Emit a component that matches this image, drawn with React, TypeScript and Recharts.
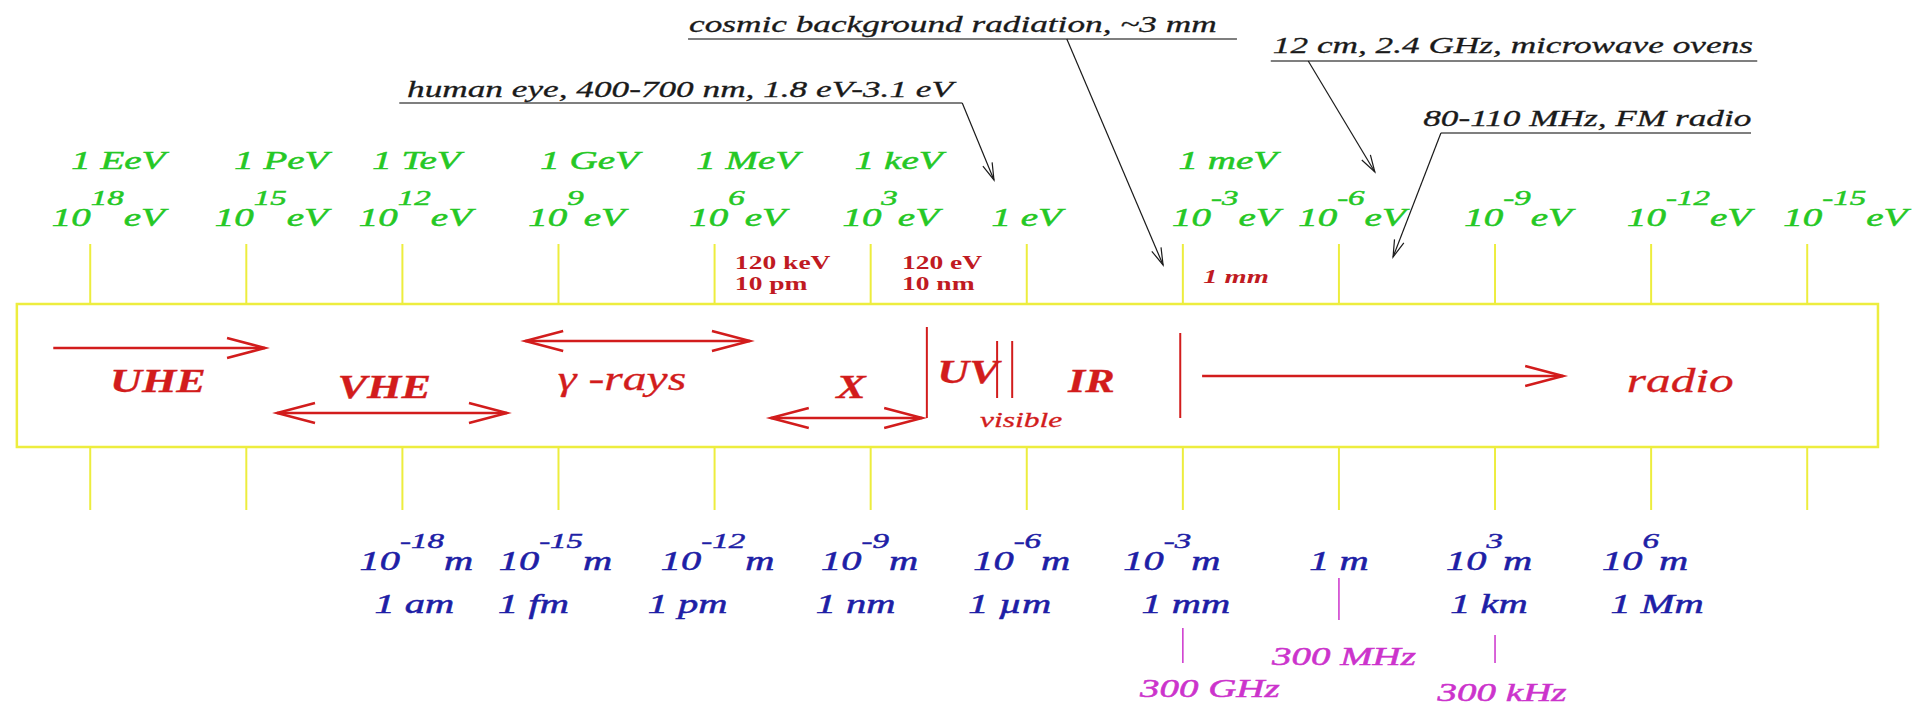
import React from "react";
import {
  ComposedChart,
  ReferenceArea,
  ReferenceLine,
  Scatter,
  XAxis,
  YAxis,
} from "recharts";

const W = 1921;
const H = 708;
// x axis = log10(E / eV), reversed: high energies on the left
const X_MIN = -17.187;
const X_MAX = 19.734;
const PX_PER_DECADE = W / (X_MAX - X_MIN);

// energy scale
const ENERGY_EXP = [18, 15, 12, 9, 6, 3, 0, -3, -6, -9, -12, -15];
const ENERGY_NAME = ["1 EeV", "1 PeV", "1 TeV", "1 GeV", "1 MeV", "1 keV", "", "1 meV", "", "", "", ""];

// wavelength scale, hung on the energy ticks 10^12 eV ... 10^-12 eV
const WAVE_AT = [12, 9, 6, 3, 0, -3, -6, -9, -12];
const WAVE_EXP = [-18, -15, -12, -9, -6, -3, 0, 3, 6];
const WAVE_NAME = ["1 am", "1 fm", "1 pm", "1 nm", "1 µm", "1 mm", "", "1 km", "1 Mm"];

// frequencies, hung on the wavelength ticks 1 mm, 1 m, 1 km
const FREQ_AT = [-3, -6, -9];
const FREQ_NAME = ["300 GHz", "300 MHz", "300 kHz"];

// bands inside the box
const BAND_NAME = ["UHE", "VHE", "γ -rays", "X", "UV", "visible", "IR", "radio"];
const BAND_LABEL_AT = [16.7, 12.35, 7.78, 3.38, 1.13, 0.11, -1.24, -12.56];
const BAND_ARROW_FROM = [18.71, 14.41, 9.64, 4.92, -3.37];
const BAND_ARROW_TO = [14.64, 9.99, 5.32, 2.01, -10.31];
const BAND_ARROW_BOTH = [false, true, true, true, false];
// UV edge, visible edges, IR / radio edge
const BAND_EDGE_AT = [1.92, 0.57, 0.28, -2.95];

// small markers above the box
const MARK_AT = [5.61, 2.4, -3.39];
const MARK_TOP = ["120 keV", "120 eV", "1 mm"];
const MARK_BOTTOM = ["10 pm", "10 nm", ""];

// callouts
const NOTE_TEXT = [
  "cosmic background radiation, ~3 mm",
  "12 cm, 2.4 GHz, microwave ovens",
  "human eye, 400-700 nm, 1.8 eV-3.1 eV",
  "80-110 MHz, FM radio",
];
const NOTE_TEXT_AT = [6.49, -4.73, 11.91, -7.62];
const NOTE_LINE_FROM = [6.51, -4.69, 12.06, -7.96];
const NOTE_LINE_TO = [-4.04, -14.04, 1.24, -13.92];
const NOTE_ARROW_FROM = [-0.77, -5.41, 1.24, -7.96];
const NOTE_ARROW_TO = [-2.62, -6.69, 0.63, -7.04];

// ---- layout (pixels from the top, pixel nudges) ----
const Y = {
  eName: 169,
  ePow: 226,
  tickTop: [244, 304],
  tickBottom: [447, 510],
  boxTop: 304,
  boxBottom: 447,
  markTop: 269,
  markBottom: 290,
  wPow: 570,
  wName: 613,
};
const BOX_LEFT = 19.41;
const BOX_RIGHT = -16.36;
const ENERGY_NAME_DX = [28, 35, 14, 31, 33, 28, 0, 45, 0, 0, 0, 0];
const ENERGY_POW_DX = [18, 25, 13, 18, 23, 20, 0, 43, 13, 23, 38, 38];
const WAVE_POW_DX = [14, -3, 3, -1, -5, -11, 0, -6, -6];
const WAVE_NAME_DX = [12, -25, -27, -15, -17, 3, 0, -6, 6];
const FREQ_LINE = [[628, 663], [578, 620], [635, 663]];
const FREQ_LABEL_Y = [697, 665, 701];
const FREQ_DX = [27, 5, 7];
const BAND_LABEL_Y = [392, 398, 390, 398, 383, 427, 392, 392];
const BAND_LABEL_SIZE = [34, 34, 34, 34, 34, 21, 34, 34];
const BAND_LABEL_BOLD = [true, true, false, true, true, false, true, false];
const BAND_LABEL_SX = [1.3, 1.3, 1.4, 1.3, 1.3, 1.5, 1.3, 1.45];
const BAND_ARROW_Y = [348, 413, 341, 418, 376];
const BAND_EDGE_Y = [[327, 418], [341, 398], [341, 398], [333, 418]];
const NOTE_TEXT_Y = [32, 53, 97, 126];
const NOTE_LINE_Y = [39, 61, 103, 133];
const NOTE_TIP_Y = [265, 172, 180, 257];

const FONT = "'Liberation Serif', 'Times New Roman', serif";
const C = {
  green: "#25c825",
  blue: "#1e1ea6",
  red: "#d21c1c",
  darkRed: "#c01a22",
  magenta: "#cc33cc",
  yellow: "#eded3e",
  ink: "#1a1a1a",
  rule: "#555555",
};

type TextProps = {
  x: number;
  y: number;
  sx?: number;
  size: number;
  fill: string;
  anchor?: "start" | "middle" | "end";
  bold?: boolean;
  italic?: boolean;
  heavy?: number;
  children: React.ReactNode;
};

// the original drawing is stretched about 1.5x horizontally
function StretchText({ x, y, sx = 1.5, size, fill, anchor = "middle", bold, italic = true, heavy = 0.5, children }: TextProps) {
  return (
    <text
      transform={`translate(${x} ${y}) scale(${sx} 1)`}
      textAnchor={anchor}
      fontFamily={FONT}
      fontSize={size}
      fontStyle={italic ? "italic" : "normal"}
      fontWeight={bold ? 700 : 400}
      fill={fill}
      stroke={fill}
      strokeWidth={heavy}
    >
      {children}
    </text>
  );
}

const arrowAngle = (fromE: number, fromY: number, toE: number, toY: number) =>
  Math.atan2(toY - fromY, (fromE - toE) * PX_PER_DECADE);

function ArrowHead(p: any) {
  const { cx, cy, payload } = p;
  const { angle, len, half, color, width } = payload;
  const bx = cx - len * Math.cos(angle);
  const by = cy - len * Math.sin(angle);
  const nx = -Math.sin(angle) * half;
  const ny = Math.cos(angle) * half;
  return (
    <path
      d={`M${bx + nx},${by + ny} L${cx},${cy} L${bx - nx},${by - ny}`}
      fill="none"
      stroke={color}
      strokeWidth={width}
    />
  );
}

const energyNames = ENERGY_EXP.map((e, i) => ({ x: e, y: Y.eName, text: ENERGY_NAME[i], dx: ENERGY_NAME_DX[i] })).filter(
  (d) => d.text
);
const energyPows = ENERGY_EXP.map((e, i) => ({ x: e, y: Y.ePow, exp: e, dx: ENERGY_POW_DX[i] }));
const wavePows = WAVE_AT.map((e, i) => ({ x: e, y: Y.wPow, exp: WAVE_EXP[i], dx: WAVE_POW_DX[i] }));
const waveNames = WAVE_AT.map((e, i) => ({ x: e, y: Y.wName, text: WAVE_NAME[i], dx: WAVE_NAME_DX[i] })).filter(
  (d) => d.text
);
const freqLabels = FREQ_AT.map((e, i) => ({ x: e, y: FREQ_LABEL_Y[i], text: FREQ_NAME[i], dx: FREQ_DX[i] }));
const bandLabels = BAND_NAME.map((name, i) => ({
  x: BAND_LABEL_AT[i],
  y: BAND_LABEL_Y[i],
  text: name,
  size: BAND_LABEL_SIZE[i],
  bold: BAND_LABEL_BOLD[i],
  sx: BAND_LABEL_SX[i],
}));
const markTop = MARK_AT.map((e, i) => ({
  x: e,
  y: MARK_BOTTOM[i] ? Y.markTop : 283,
  text: MARK_TOP[i],
  italic: !MARK_BOTTOM[i],
}));
const markBottom = MARK_AT.map((e, i) => ({ x: e, y: Y.markBottom, text: MARK_BOTTOM[i] })).filter((d) => d.text);
const noteLabels = NOTE_TEXT.map((t, i) => ({ x: NOTE_TEXT_AT[i], y: NOTE_TEXT_Y[i], text: t }));

const bandHeads = BAND_ARROW_FROM.flatMap((from, i) => {
  const to = BAND_ARROW_TO[i];
  const y = BAND_ARROW_Y[i];
  const style = { len: 38, half: 10, color: C.red, width: 2.5 };
  const heads = [{ x: to, y, angle: arrowAngle(from, y, to, y), ...style }];
  if (BAND_ARROW_BOTH[i]) heads.push({ x: from, y, angle: arrowAngle(to, y, from, y), ...style });
  return heads;
});
const noteHeads = NOTE_ARROW_TO.map((to, i) => ({
  x: to,
  y: NOTE_TIP_Y[i],
  angle: arrowAngle(NOTE_ARROW_FROM[i], NOTE_LINE_Y[i], to, NOTE_TIP_Y[i]),
  len: 17,
  half: 5,
  color: C.ink,
  width: 1.2,
}));

function Power({ base, exp, unit, supSize, rise }: any) {
  return (
    <>
      {base}
      <tspan dy={-rise} fontSize={supSize}>
        {exp}
      </tspan>
      <tspan dy={rise}>{unit}</tspan>
    </>
  );
}

export default function App() {
  return (
    <div style={{ position: "absolute", left: 0, top: 0, width: W, height: H, background: "#fff" }}>
      <ComposedChart width={W} height={H} margin={{ top: 0, right: 0, bottom: 0, left: 0 }}>
        <XAxis type="number" dataKey="x" domain={[X_MIN, X_MAX]} reversed hide allowDataOverflow />
        <YAxis type="number" dataKey="y" domain={[0, H]} reversed hide allowDataOverflow />

        <ReferenceArea
          x1={BOX_LEFT}
          x2={BOX_RIGHT}
          y1={Y.boxTop}
          y2={Y.boxBottom}
          fill="none"
          fillOpacity={0}
          stroke={C.yellow}
          strokeWidth={2.5}
          ifOverflow="visible"
        />
        {ENERGY_EXP.flatMap((e) => [
          <ReferenceLine
            key={`t${e}`}
            segment={[{ x: e, y: Y.tickTop[0] }, { x: e, y: Y.tickTop[1] }]}
            stroke={C.yellow}
            strokeWidth={2}
            ifOverflow="visible"
          />,
          <ReferenceLine
            key={`b${e}`}
            segment={[{ x: e, y: Y.tickBottom[0] }, { x: e, y: Y.tickBottom[1] }]}
            stroke={C.yellow}
            strokeWidth={2}
            ifOverflow="visible"
          />,
        ])}

        {/* band arrows and edges */}
        {BAND_ARROW_FROM.map((from, i) => (
          <ReferenceLine
            key={`ba${i}`}
            segment={[{ x: from, y: BAND_ARROW_Y[i] }, { x: BAND_ARROW_TO[i], y: BAND_ARROW_Y[i] }]}
            stroke={C.red}
            strokeWidth={2.5}
            ifOverflow="visible"
          />
        ))}
        {BAND_EDGE_AT.map((e, i) => (
          <ReferenceLine
            key={`be${i}`}
            segment={[{ x: e, y: BAND_EDGE_Y[i][0] }, { x: e, y: BAND_EDGE_Y[i][1] }]}
            stroke={C.red}
            strokeWidth={2}
            ifOverflow="visible"
          />
        ))}

        {/* frequency pointers */}
        {FREQ_AT.map((e, i) => (
          <ReferenceLine
            key={`f${i}`}
            segment={[{ x: e, y: FREQ_LINE[i][0] }, { x: e, y: FREQ_LINE[i][1] }]}
            stroke={C.magenta}
            strokeWidth={1.5}
            ifOverflow="visible"
          />
        ))}

        {/* callout underlines and arrows */}
        {NOTE_TEXT.map((_, i) => (
          <ReferenceLine
            key={`nu${i}`}
            segment={[{ x: NOTE_LINE_FROM[i], y: NOTE_LINE_Y[i] }, { x: NOTE_LINE_TO[i], y: NOTE_LINE_Y[i] }]}
            stroke={C.rule}
            strokeWidth={1.5}
            ifOverflow="visible"
          />
        ))}
        {NOTE_TEXT.map((_, i) => (
          <ReferenceLine
            key={`na${i}`}
            segment={[{ x: NOTE_ARROW_FROM[i], y: NOTE_LINE_Y[i] }, { x: NOTE_ARROW_TO[i], y: NOTE_TIP_Y[i] }]}
            stroke={C.ink}
            strokeWidth={1.2}
            ifOverflow="visible"
          />
        ))}

        <Scatter data={bandHeads} shape={ArrowHead} isAnimationActive={false} />
        <Scatter data={noteHeads} shape={ArrowHead} isAnimationActive={false} />

        <Scatter
          data={noteLabels}
          isAnimationActive={false}
          shape={(p: any) => (
            <StretchText x={p.cx} y={p.cy} size={23.5} fill={C.ink} anchor="start" heavy={0.3}>
              {p.payload.text}
            </StretchText>
          )}
        />
        <Scatter
          data={energyNames}
          isAnimationActive={false}
          shape={(p: any) => (
            <StretchText x={p.cx + p.payload.dx} y={p.cy} size={26} fill={C.green}>
              {p.payload.text}
            </StretchText>
          )}
        />
        <Scatter
          data={energyPows}
          isAnimationActive={false}
          shape={(p: any) => (
            <StretchText x={p.cx + p.payload.dx} y={p.cy} size={26} fill={C.green}>
              {p.payload.exp === 0 ? (
                "1 eV"
              ) : (
                <Power base="10" exp={String(p.payload.exp)} unit="eV" supSize={22} rise={21} />
              )}
            </StretchText>
          )}
        />
        <Scatter
          data={markTop}
          isAnimationActive={false}
          shape={(p: any) => (
            <StretchText
              x={p.cx}
              y={p.cy}
              size={19}
              sx={p.payload.italic ? 1.5 : 1.45}
              fill={C.darkRed}
              anchor="start"
              bold
              italic={p.payload.italic}
              heavy={0}
            >
              {p.payload.text}
            </StretchText>
          )}
        />
        <Scatter
          data={markBottom}
          isAnimationActive={false}
          shape={(p: any) => (
            <StretchText x={p.cx} y={p.cy} size={19} sx={1.45} fill={C.darkRed} anchor="start" bold italic={false} heavy={0}>
              {p.payload.text}
            </StretchText>
          )}
        />
        <Scatter
          data={bandLabels}
          isAnimationActive={false}
          shape={(p: any) => (
            <StretchText
              x={p.cx}
              y={p.cy}
              size={p.payload.size}
              sx={p.payload.sx}
              bold={p.payload.bold}
              fill={C.red}
              heavy={0.3}
            >
              {p.payload.text}
            </StretchText>
          )}
        />
        <Scatter
          data={wavePows}
          isAnimationActive={false}
          shape={(p: any) => (
            <StretchText x={p.cx + p.payload.dx} y={p.cy} size={27} fill={C.blue}>
              {p.payload.exp === 0 ? (
                "1 m"
              ) : (
                <Power base="10" exp={String(p.payload.exp)} unit="m" supSize={22} rise={22} />
              )}
            </StretchText>
          )}
        />
        <Scatter
          data={waveNames}
          isAnimationActive={false}
          shape={(p: any) => (
            <StretchText x={p.cx + p.payload.dx} y={p.cy} size={27} fill={C.blue}>
              {p.payload.text}
            </StretchText>
          )}
        />
        <Scatter
          data={freqLabels}
          isAnimationActive={false}
          shape={(p: any) => (
            <StretchText x={p.cx + p.payload.dx} y={p.cy} size={26} fill={C.magenta}>
              {p.payload.text}
            </StretchText>
          )}
        />
      </ComposedChart>
    </div>
  );
}
